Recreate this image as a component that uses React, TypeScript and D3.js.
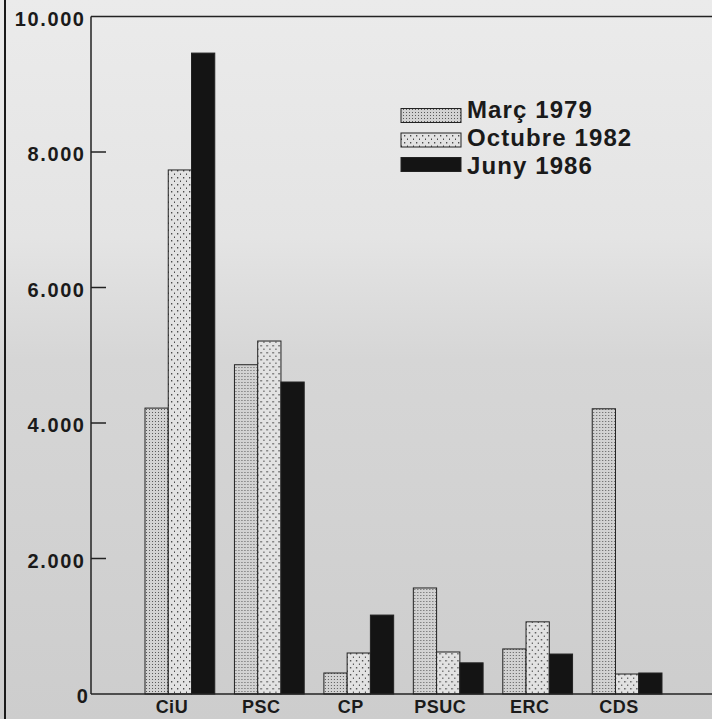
import React from "react";
import * as d3 from "d3";

const categories = ["CiU", "PSC", "CP", "PSUC", "ERC", "CDS"];
const seriesNames = ["Març 1979", "Octubre 1982", "Juny 1986"];
const marc1979 = [4220, 4860, 310, 1565, 665, 4210];
const octubre1982 = [7735, 5210, 605, 620, 1065, 295];
const juny1986 = [9460, 4605, 1165, 460, 590, 310];
const yTicks = [0, 2000, 4000, 6000, 8000, 10000];

const W = 712;
const H = 719;
const left = 91;
const top = 16.5;
const bottom = 694;

const locale = d3.formatLocale({ decimal: ",", thousands: ".", grouping: [3], currency: ["", ""] });
const fmt = locale.format(",");

export default function App() {
  const series = [marc1979, octubre1982, juny1986];
  const y = d3.scaleLinear().domain([0, 10000]).range([bottom, top]);
  const x0 = d3.scaleBand().domain(categories).range([145, 662]).paddingInner(0.22).paddingOuter(0);
  const x1 = d3.scaleBand().domain(seriesNames).range([0, x0.bandwidth()]).padding(0);
  const fills = ["url(#pMarc)", "url(#pOct)", "#141414"];
  const font = "'Liberation Sans', Arial, sans-serif";
  const tickLS = 1.6;
  const legLS = 1.1;

  return (
    <svg width={W} height={H} style={{ position: "absolute", left: 0, top: 0 }} xmlns="http://www.w3.org/2000/svg">
      <defs>
        <linearGradient id="bg" x1="0" y1="0" x2="0" y2="1">
          <stop offset="0" stopColor="#ebebeb" />
          <stop offset="0.33" stopColor="#e4e4e4" />
          <stop offset="0.5" stopColor="#d6d6d6" />
          <stop offset="1" stopColor="#cdcdcd" />
        </linearGradient>
        <pattern id="pMarc" width="3" height="3" patternUnits="userSpaceOnUse">
          <rect width="3" height="3" fill="#d2d2d2" />
          <rect x="1" y="1" width="1" height="1" fill="#5a5a5a" />
        </pattern>
        <pattern id="pOct" width="6" height="7" patternUnits="userSpaceOnUse">
          <rect width="6" height="7" fill="#e2e2e2" />
          <rect x="2" y="2" width="1.3" height="1.5" fill="#4a4a4a" />
          <rect x="5" y="5.5" width="1.3" height="1.5" fill="#4a4a4a" />
        </pattern>
      </defs>
      <rect width={W} height={H} fill="url(#bg)" />
      <line x1={5} x2={5} y1={0} y2={H} stroke="#1a1a1a" strokeWidth={2} />

      {categories.map((c, i) => (
        <g key={c} transform={`translate(${x0(c)},0)`}>
          {seriesNames.map((s, j) => (
            <rect
              key={s}
              x={x1(s)}
              y={y(series[j][i])}
              width={x1.bandwidth()}
              height={bottom - y(series[j][i])}
              fill={fills[j]}
              stroke="#222"
              strokeWidth={1}
            />
          ))}
        </g>
      ))}

      <line x1={left} x2={W} y1={top} y2={top} stroke="#222" strokeWidth={1.5} />
      <line x1={left} x2={W} y1={bottom} y2={bottom} stroke="#222" strokeWidth={1.5} />
      <line x1={left} x2={left} y1={top} y2={bottom} stroke="#222" strokeWidth={1.5} />

      {yTicks.map((t) => (
        <g key={t}>
          {t !== 0 && t !== 10000 && (
            <line x1={left} x2={left + 15} y1={y(t)} y2={y(t)} stroke="#222" strokeWidth={1.5} />
          )}
          <text
            x={(t === 0 ? 88 : 84) + tickLS}
            y={y(t)}
            dy="0.45em"
            textAnchor="end"
            fontFamily={font}
            fontWeight="bold"
            fontSize={20}
            letterSpacing={tickLS}
            fill="#1a1a1a"
          >
            {fmt(t)}
          </text>
        </g>
      ))}

      {categories.map((c) => (
        <text
          key={c}
          x={(x0(c) as number) + x0.bandwidth() / 2 - 8}
          y={713}
          textAnchor="middle"
          fontFamily={font}
          fontWeight="bold"
          fontSize={18}
          letterSpacing={0.5}
          fill="#1a1a1a"
        >
          {c}
        </text>
      ))}

      {seriesNames.map((s, j) => (
        <g key={s}>
          <rect x={401} y={108.5 + j * 24.5} width={60} height={14} fill={fills[j]} stroke="#222" strokeWidth={1} />
          <text x={467} y={118 + j * 28} fontFamily={font} fontWeight="bold" fontSize={24} letterSpacing={legLS} fill="#1a1a1a">
            {s}
          </text>
        </g>
      ))}
    </svg>
  );
}
